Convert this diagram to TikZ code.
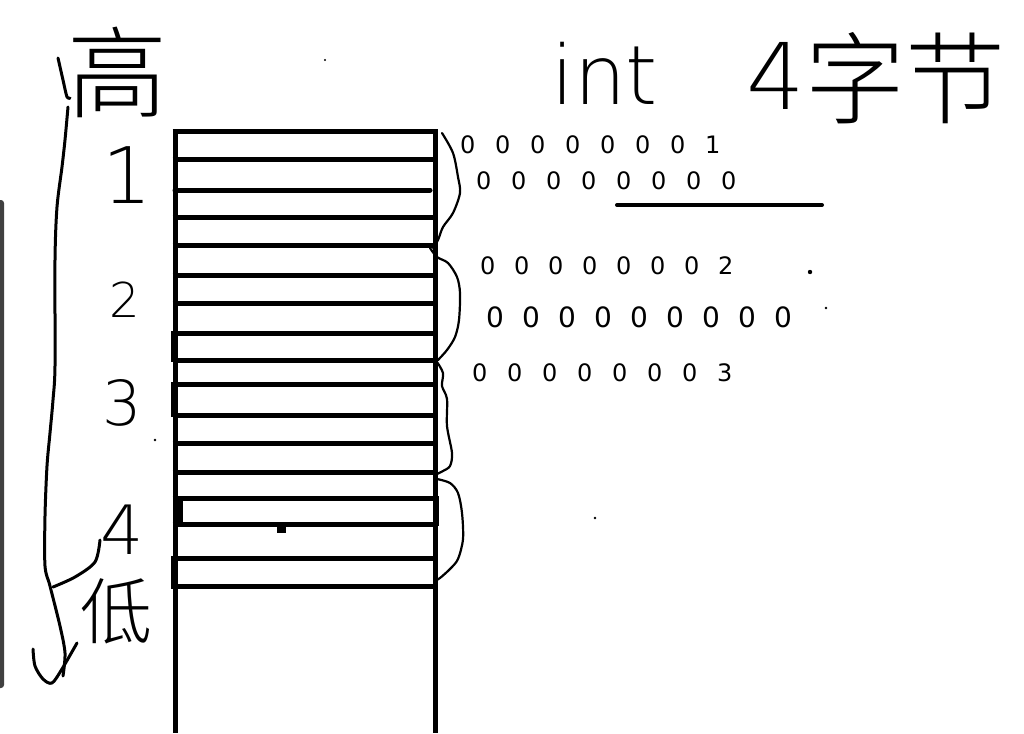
\documentclass[tikz,border=0pt]{standalone}
\usepackage{fontspec}
\setmainfont{DejaVu Sans}
\newfontfamily\thin{DejaVu Sans ExtraLight}
\newfontfamily\cjk[UprightFont={* Light}]{Noto Sans CJK SC}
\newcommand\spreadbits[2]{\def\bitpitch{#1}\spreadaux#2\relax}
\def\spreadaux#1{\ifx#1\relax\else\hbox to\bitpitch{#1\hss}\expandafter\spreadaux\fi}
\tikzset{
  col/.style={line width=5pt},
  hand/.style={line width=3pt, line cap=round, line join=round},
  bracestroke/.style={line width=2.2pt, line cap=round, line join=round},
  bits/.style={anchor=base west, inner sep=0pt, font=\fontsize{24}{24}\selectfont},
  lab/.style={inner sep=0pt, font=\thin},
}
\begin{document}
\begin{tikzpicture}[x=1pt,y=-1pt]
\useasboundingbox (0,0) rectangle (1024,733);
\fill[white] (0,0) rectangle (1024,733);
% screenshot edge bar
\fill[black!75, rounded corners=3pt] (-6,200) rectangle (4,688);
% memory column
\draw[col] (175,129) -- (175,733);
\draw[col] (435,129) -- (435,733);
\foreach \y in {131,159,217,245,275,303,333,360,384,415,443,472,498,524,558,586}
  \draw[col] (172.5,\y) -- (437.5,\y);
\draw[col, line cap=round] (175,190) -- (430,190);
\fill (171,331) rectangle (178,362);
\fill (171,382) rectangle (178,417);
\fill (171,556) rectangle (178,589);
\fill (177,496) rectangle (183,526);
\fill (433,496) rectangle (439,526);
\fill (277,525) rectangle (286,533);
% braces
\draw[bracestroke] plot[smooth] coordinates {(442,133) (453,153) (458,177) (460,193) (453,213) (443,227) (438,240) (433,248)};
\draw[bracestroke] plot[smooth] coordinates {(430,248) (437,257) (448,263) (457,277) (460,293) (459,320) (455,337) (447,350) (438,360)};
\draw[bracestroke] plot[smooth] coordinates {(437,362) (443,373) (442,386) (447,399) (447,426) (452,453) (450,466) (443,471) (437,474)};
\draw[bracestroke] plot[smooth] coordinates {(437,479) (450,483) (458,493) (462,513) (463,539) (458,559) (450,569) (440,578) (435,581)};
% left high-low stroke
\draw[hand] plot[smooth] coordinates {(58,58) (63,80) (67,97) (70,98)};
\draw[hand] plot[smooth] coordinates {(68,107) (65,140) (62,167) (57,207) (55,260) (55,366) (53,400) (50,433) (47,466) (45,516) (45,566) (50,586) (60,626) (65,653) (63,676)};
\draw[hand] plot[smooth] coordinates {(33,649) (35,666) (43,679) (52,683) (62,669) (77,643)};
\draw[hand] plot[smooth] coordinates {(100,540) (95,562) (75,577) (53,587)};
% labels
\node[lab, font=\cjk\fontsize{100}{100}\selectfont] (gao) at (117,72) {高};
\node[lab, font=\cjk\fontsize{72}{72}\selectfont] (di) at (116,611) {低};
\node[lab, font=\thin\fontsize{78}{78}\selectfont] (n1) at (127,175) {1};
\node[lab, font=\thin\fontsize{48}{48}\selectfont] (n2) at (125,300) {2};
\node[lab, font=\thin\fontsize{62}{62}\selectfont] (n3) at (122,403) {3};
\node[lab, font=\thin\fontsize{68}{68}\selectfont] (n4) at (122,530) {4};
\node[lab, anchor=base west, font=\thin\fontsize{82}{82}\selectfont] (int) at (551,105) {int};
\node[lab, anchor=base, font=\thin\fontsize{92}{92}\selectfont] (four) at (776,110) {4};
\node[lab, font=\cjk\fontsize{100}{100}\selectfont] (zijie) at (905,78) {字节};
% byte contents
\node[bits] (b1) at (460,153) {\spreadbits{35pt}{00000001}};
\node[bits] (b2) at (476,189) {\spreadbits{35pt}{00000000}};
\draw[line width=4pt, line cap=round] (617,205) -- (822,205);
\node[bits] (b3) at (480,274) {\spreadbits{34pt}{00000002}};
\node[bits, font=\fontsize{28}{28}\selectfont] (b4) at (486,327) {\spreadbits{36pt}{000000000}};
\node[bits] (b5) at (472,381) {\spreadbits{35pt}{00000003}};
% stray dots
\fill (810,272) circle (2.2);
\fill (826,308) circle (1.4);
\fill (325,60) circle (1.2);
\fill (155,440) circle (1.4);
\fill (595,518) circle (1.4);
\end{tikzpicture}
\end{document}
